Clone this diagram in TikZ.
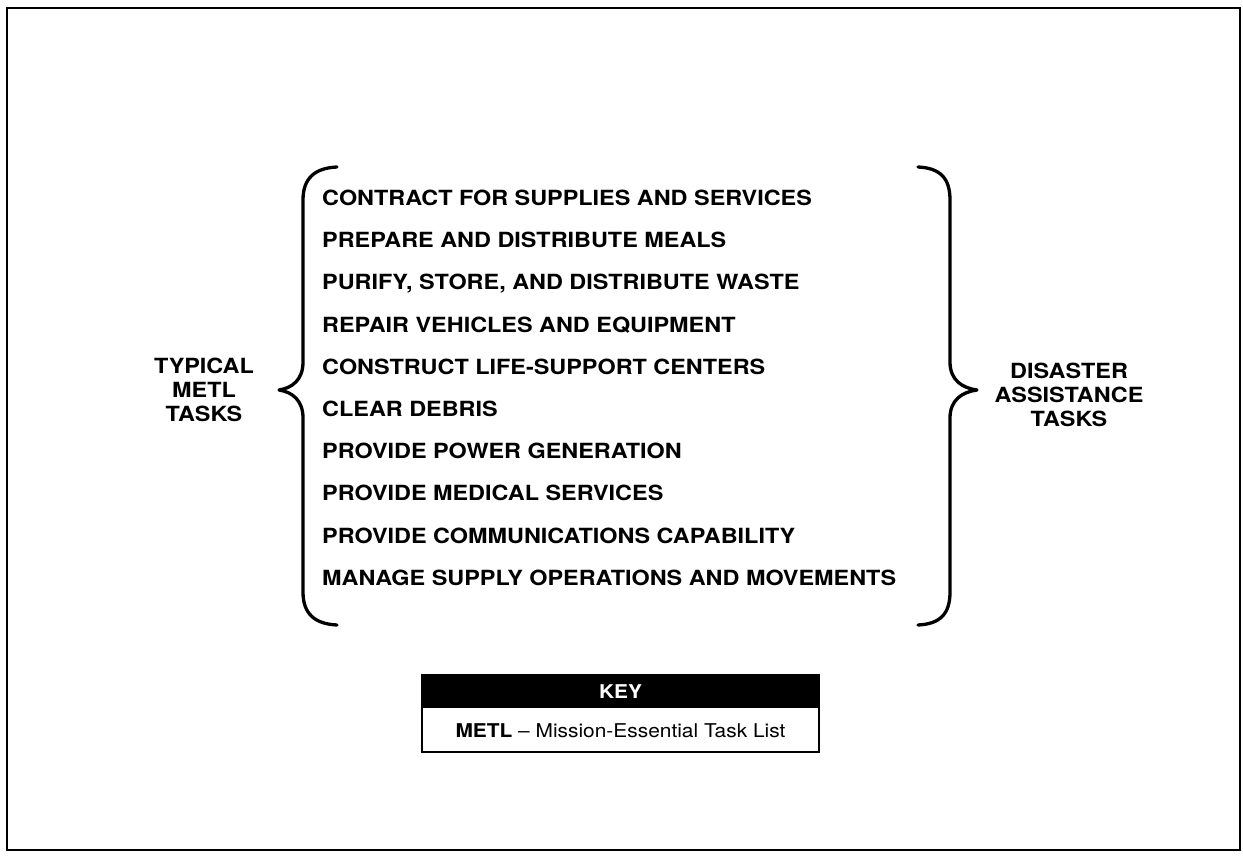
\documentclass[tikz,border=0pt]{standalone}
\usepackage{fontspec}
\setmainfont{TeX Gyre Heros}
\newfontfamily\hvw[FakeStretch=1.12]{TeX Gyre Heros}
\newfontfamily\hvk[FakeStretch=1.1]{TeX Gyre Heros}
\begin{document}
\begin{tikzpicture}[x=1pt,y=-1pt,
  listitem/.style={anchor=base west,inner sep=0pt,font=\hvw\bfseries\fontsize{20.9}{25}\selectfont},
  sidelabel/.style={align=center,inner sep=0pt,font=\hvw\bfseries\fontsize{20.9}{24}\selectfont},
  bracepath/.style={line width=3.3pt,line cap=round,line join=round},
  frame/.style={line width=2pt}]
\useasboundingbox (0,0) rectangle (1243,856);
\draw[frame] (7,8) rectangle (1240,850);
% left brace
\coordinate (lbtop) at (337,167);
\coordinate (lbtip) at (279,390);
\coordinate (lbbot) at (337,625);
\draw[bracepath] (lbtop) .. controls (315,168) and (303,178) .. (303,200) -- (303,362)
  .. controls (303,380) and (292,388) .. (lbtip)
  .. controls (292,392) and (303,400) .. (303,418) -- (303,592)
  .. controls (303,614) and (315,624) .. (lbbot);
% right brace
\coordinate (rbtop) at (918,167);
\coordinate (rbtip) at (977,390);
\coordinate (rbbot) at (918,625);
\draw[bracepath] (rbtop) .. controls (940,168) and (950,178) .. (950,200) -- (950,362)
  .. controls (950,380) and (962,388) .. (rbtip)
  .. controls (962,392) and (950,400) .. (950,418) -- (950,592)
  .. controls (950,614) and (940,624) .. (rbbot);
% task list
\node[listitem] (t1) at (322,205.5) {CONTRACT FOR SUPPLIES AND SERVICES};
\node[listitem] (t2) at (322,247.7) {PREPARE AND DISTRIBUTE MEALS};
\node[listitem] (t3) at (322,289.9) {PURIFY, STORE, AND DISTRIBUTE WASTE};
\node[listitem] (t4) at (322,332.1) {REPAIR VEHICLES AND EQUIPMENT};
\node[listitem] (t5) at (322,374.3) {CONSTRUCT LIFE-SUPPORT CENTERS};
\node[listitem] (t6) at (322,416.5) {CLEAR DEBRIS};
\node[listitem] (t7) at (322,458.7) {PROVIDE POWER GENERATION};
\node[listitem] (t8) at (322,500.9) {PROVIDE MEDICAL SERVICES};
\node[listitem] (t9) at (322,543.1) {PROVIDE COMMUNICATIONS CAPABILITY};
\node[listitem] (t10) at (322,585.3) {MANAGE SUPPLY OPERATIONS AND MOVEMENTS};
% side labels
\node[sidelabel] (left) at (204,390) {TYPICAL\\METL\\TASKS};
\node[sidelabel] (right) at (1069,395) {DISASTER\\ASSISTANCE\\TASKS};
% key
\fill[black] (422,675) rectangle (819,708);
\draw[line width=1.4pt] (422,675) rectangle (819,752);
\node[inner sep=0pt,text=white,font=\hvk\bfseries\fontsize{19}{22}\selectfont] (keyhead) at (620.5,692) {KEY};
\node[inner sep=0pt,font=\hvk\fontsize{19}{22}\selectfont] (keyrow) at (620.5,731) {\textbf{METL} – Mission-Essential Task List};
\end{tikzpicture}
\end{document}
